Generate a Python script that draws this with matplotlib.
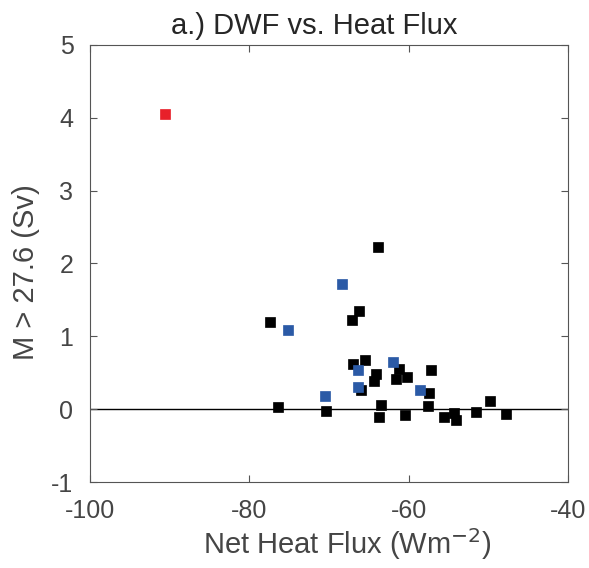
import numpy as np
import matplotlib.pyplot as plt

plt.rcParams['font.family'] = ['Liberation Sans', 'DejaVu Sans']
plt.rcParams['axes.unicode_minus'] = False

# black points
flux_black = [-63.9, -66.2, -67.1, -77.4, -65.5, -67.0, -61.25, -57.2, -64.05, -60.2,
              -64.3, -61.6, -66.0, -57.4, -76.35, -70.4, -63.5, -57.5, -63.75, -60.5,
              -55.5, -54.3, -54.1, -51.55, -49.8, -47.7]
dwf_black = [2.23, 1.35, 1.22, 1.19, 0.67, 0.62, 0.55, 0.54, 0.48, 0.44,
             0.39, 0.41, 0.27, 0.22, 0.03, -0.02, 0.06, 0.05, -0.11, -0.08,
             -0.11, -0.05, -0.15, -0.04, 0.11, -0.07]

# blue points
flux_blue = [-68.3, -75.2, -62.0, -66.3, -66.4, -58.6, -70.45]
dwf_blue = [1.72, 1.09, 0.65, 0.54, 0.31, 0.27, 0.18]

# red point
flux_red = [-90.6]
dwf_red = [4.05]

txt = '#454545'

fig = plt.figure(figsize=(5.89, 5.68), dpi=100)
ax = fig.add_axes([0.153, 0.1514, 0.811, 0.7694])

ax.axhline(0, color='black', lw=1.0, zorder=1)
ax.plot(flux_black, dwf_black, 's', color='black', ms=6.5, mew=0.5, zorder=3)
ax.plot(flux_blue, dwf_blue, 's', color='#2b5aa6', ms=6.5, mew=0.5, zorder=4)
ax.plot(flux_red, dwf_red, 's', color='#e8202a', ms=6.5, mew=0.5, zorder=4)

ax.set_xlim(-100, -40)
ax.set_ylim(-1, 5)
ax.set_xticks([-100, -80, -60, -40])
ax.set_yticks([-1, 0, 1, 2, 3, 4, 5])
ax.tick_params(direction='in', top=True, right=True, length=5, width=0.8,
               colors='#555555', labelcolor=txt, labelsize=18)
ax.tick_params(axis='x', pad=12)
ax.tick_params(axis='y', pad=12)
for s in ax.spines.values():
    s.set_color('#555555')
    s.set_linewidth(0.8)

ax.set_title('a.) DWF vs. Heat Flux', fontsize=21, color='#262626', x=0.47, pad=8)
ax.set_xlabel('Net Heat Flux (Wm$^{-2}$)', fontsize=21, color=txt)
ax.set_ylabel('M > 27.6 (Sv)', fontsize=21, color=txt)
ax.xaxis.set_label_coords(0.538, -0.10)
ax.yaxis.set_label_coords(-0.105, 0.48)

fig.savefig('out.png', dpi=100)
